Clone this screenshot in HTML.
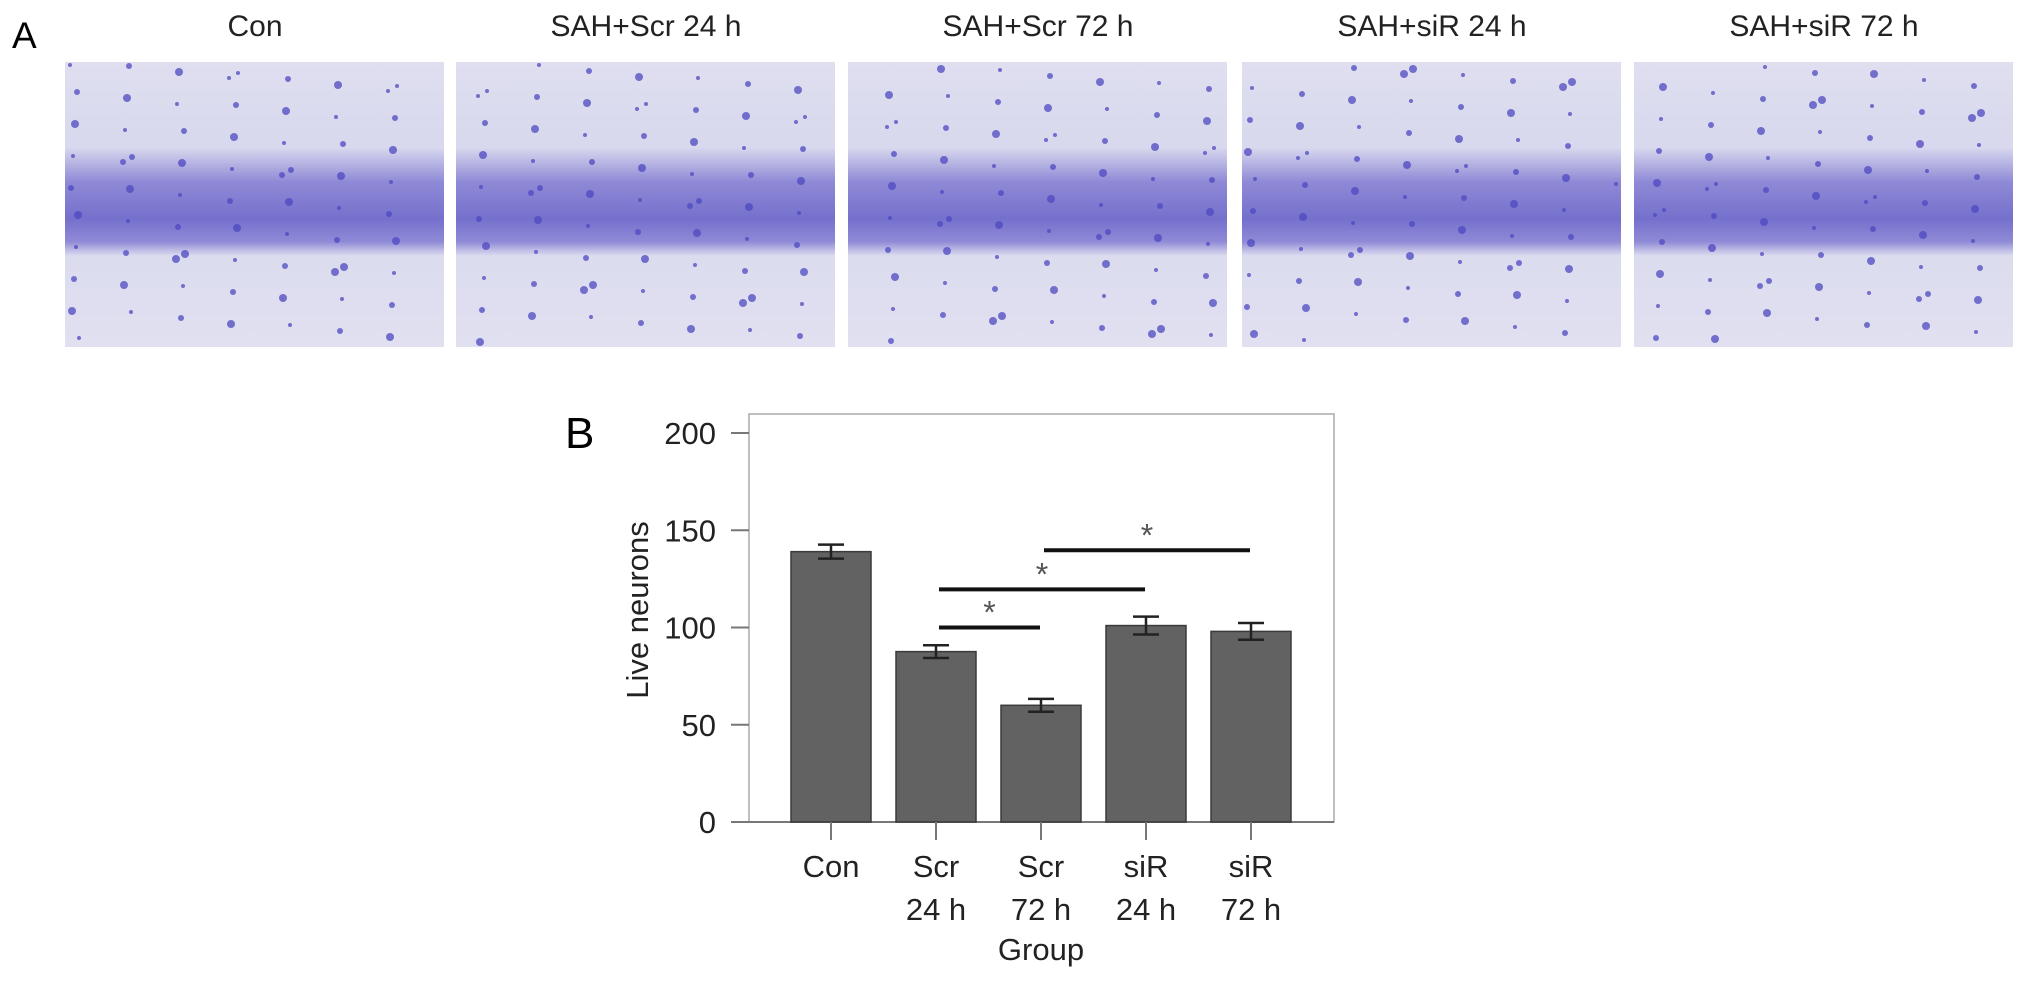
<!DOCTYPE html>
<html><head><meta charset="utf-8"><style>
html,body{margin:0;padding:0;background:#fff;}
svg text{font-family:"Liberation Sans",sans-serif;}
</style></head><body>
<svg id="fig" width="2032" height="977" viewBox="0 0 2032 977" xmlns="http://www.w3.org/2000/svg">
<defs>
<linearGradient id="band" x1="0" y1="0" x2="0" y2="1">
<stop offset="0" stop-color="#dfdff0"/><stop offset="0.3" stop-color="#d8d8ee"/>
<stop offset="0.42" stop-color="#8f8ad6"/><stop offset="0.55" stop-color="#7570cc"/>
<stop offset="0.63" stop-color="#8f8ad6"/><stop offset="0.68" stop-color="#dcdcef"/>
<stop offset="1" stop-color="#e0e0f1"/></linearGradient>
</defs>
<text x="12" y="48" font-size="37">A</text>
<g id="panels"></g>
<text x="565" y="448" font-size="44">B</text>
<g id="chart"></g>
</svg>
<script>
const NS="http://www.w3.org/2000/svg";
function mk(tag,attrs,parent){const e=document.createElementNS(NS,tag);for(const k in attrs)e.setAttribute(k,attrs[k]);parent.appendChild(e);return e;}

// Panel A micrographs
const panelTitles=["Con","SAH+Scr 24 h","SAH+Scr 72 h","SAH+siR 24 h","SAH+siR 72 h"];
const panelX=[65,456,848,1242,1634];
const pg=document.getElementById('panels');
panelTitles.forEach((t,i)=>{
  const title=mk('text',{x:panelX[i]+190,y:36,'font-size':30,'text-anchor':'middle',fill:'#222'},pg);
  title.textContent=t;
  
  
  const r=mk('rect',{x:panelX[i],y:62,width:379,height:285,fill:'url(#band)'},pg);
  
  
  for(let k=0;k<70;k++){
    const cx=panelX[i]+((k*53+i*17)%370)+5;
    const cy=62+((k*97+i*31)%278)+3;
    const c=mk('circle',{cx:cx,cy:cy,r:(k%3)+2,fill:'#4e48c0','fill-opacity':0.75},pg);
    
    
  }
});

// Panel B bar chart data
const categories=["Con","Scr|24 h","Scr|72 h","siR|24 h","siR|72 h"];
const values=[139,87.6,60,101,98];
const errors=[3.6,3.3,3.3,4.6,4.3];
const yTicks=[0,50,100,150,200];
const sigFrom=[1,1,2];
const sigTo=[2,3,4];
const sigLevel=[100,119.6,139.7];

const ch=document.getElementById('chart');
const X0=749,X1=1334,YT=414,Y0=822,PPU=1.945;
const xc=i=>831+i*105;
const yv=v=>Y0-v*PPU;
const bw=80;

let f=mk('rect',{x:X0,y:YT,width:X1-X0,height:Y0-YT,fill:'none',stroke:'#aaa','stroke-width':1.5},ch);


let ax=mk('line',{x1:X0-18,y1:Y0,x2:X1,y2:Y0,stroke:'#777','stroke-width':2},ch);



yTicks.forEach(v=>{
  const tk=mk('line',{x1:X0-18,y1:yv(v),x2:X0,y2:yv(v),stroke:'#777','stroke-width':2},ch);
  
  
  const tl=mk('text',{x:716,y:yv(v)+11,'font-size':31,'text-anchor':'end',fill:'#222'},ch);
  tl.textContent=v;
  
  
});
const yt=mk('text',{x:0,y:0,'font-size':31,'text-anchor':'middle',fill:'#222',transform:'translate(648,610) rotate(-90)'},ch);
yt.textContent='Live neurons';



values.forEach((v,i)=>{
  const b=mk('rect',{x:xc(i)-bw/2,y:yv(v),width:bw,height:Y0-yv(v),fill:'#626262',stroke:'#3a3a3a','stroke-width':1.5},ch);
  
  
  const e=errors[i];
  const eb=mk('path',{d:`M${xc(i)},${yv(v+e)}V${yv(v-e)}M${xc(i)-13},${yv(v+e)}H${xc(i)+13}M${xc(i)-13},${yv(v-e)}H${xc(i)+13}`,stroke:'#222','stroke-width':2.5,fill:'none'},ch);
  
  
  const tk=mk('line',{x1:xc(i),y1:Y0,x2:xc(i),y2:Y0+18,stroke:'#777','stroke-width':2},ch);
  
  
  const parts=categories[i].split('|');
  parts.forEach((p,j)=>{
    const tl=mk('text',{x:xc(i),y:877+j*43,'font-size':31,'text-anchor':'middle',fill:'#222'},ch);
    tl.textContent=p;
    
    
  });
});
const xt=mk('text',{x:1041,y:960,'font-size':31,'text-anchor':'middle',fill:'#222'},ch);
xt.textContent='Group';



sigFrom.forEach((a,k)=>{
  const y=yv(sigLevel[k]);
  const l=mk('line',{x1:xc(a)+3,y1:y,x2:xc(sigTo[k])-1,y2:y,stroke:'#111','stroke-width':4},ch);
  
  
  const s=mk('text',{x:(xc(a)+xc(sigTo[k]))/2+1,y:y-4,'font-size':32,'text-anchor':'middle',fill:'#555'},ch);
  s.textContent='*';
  
  
});
</script>
</body></html>
